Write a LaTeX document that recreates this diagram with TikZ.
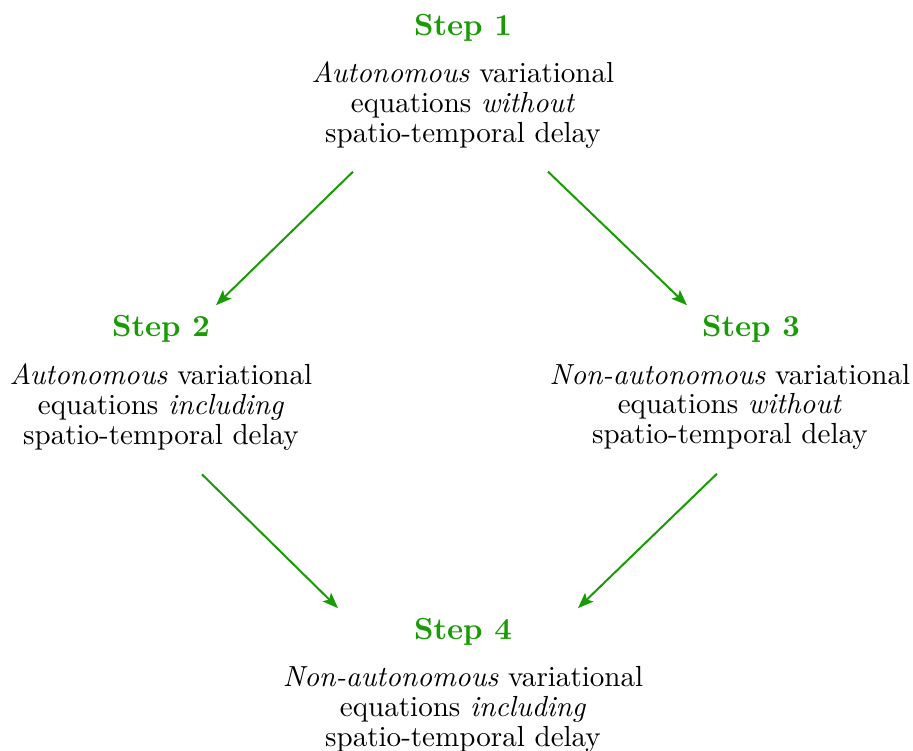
\documentclass[tikz,border=0pt]{standalone}
\usepackage{amsmath}
\usepackage{tikz}
\usetikzlibrary{positioning,arrows.meta}
\definecolor{stepgreen}{RGB}{25,155,5}

\begin{document}
\begin{tikzpicture}[line width=0.7pt,
  steptitle/.style={text=stepgreen,font=\fontsize{10.7}{12}\selectfont\bfseries,anchor=base},
  stepdesc/.style={align=center,font=\fontsize{10.2}{10.5}\selectfont},
  flow/.style={draw=stepgreen,-{Stealth[length=5.5pt,width=4.2pt,inset=1.2pt]}}]
\useasboundingbox (0,0) rectangle (11.258,-9.26);
\node[steptitle] (t1) at (5.709,-0.432) {Step 1};
\node[stepdesc,below=0pt of t1] (d1) {\textit{Autonomous} variational\\ equations \textit{without}\\ spatio-temporal delay};
\node[steptitle] (t2) at (1.985,-4.155) {Step 2};
\node[stepdesc,below=0pt of t2] (d2) {\textit{Autonomous} variational\\ equations \textit{including}\\ spatio-temporal delay};
\node[steptitle] (t3) at (9.26,-4.155) {Step 3};
\node[stepdesc,below=0pt of t3,xshift=-0.26cm] (d3) {\textit{Non-autonomous} variational\\ equations \textit{without}\\ spatio-temporal delay};
\node[steptitle] (t4) at (5.709,-7.89) {Step 4};
\node[stepdesc,below=0pt of t4] (d4) {\textit{Non-autonomous} variational\\ equations \textit{including}\\ spatio-temporal delay};
\draw[flow] ([xshift=-1.356cm,yshift=-0.155cm]d1.south) -- ([xshift=0.678cm]t2.north);
\draw[flow] ([xshift=1.048cm,yshift=-0.155cm]d1.south) -- ([xshift=-0.789cm]t3.north);
\draw[flow] ([xshift=0.506cm,yshift=-0.165cm]d2.south) -- ([xshift=-1.541cm]t4.north);
\draw[flow] ([xshift=-0.16cm,yshift=-0.165cm]d3.south) -- ([xshift=1.418cm]t4.north);
\end{tikzpicture}
\end{document}
